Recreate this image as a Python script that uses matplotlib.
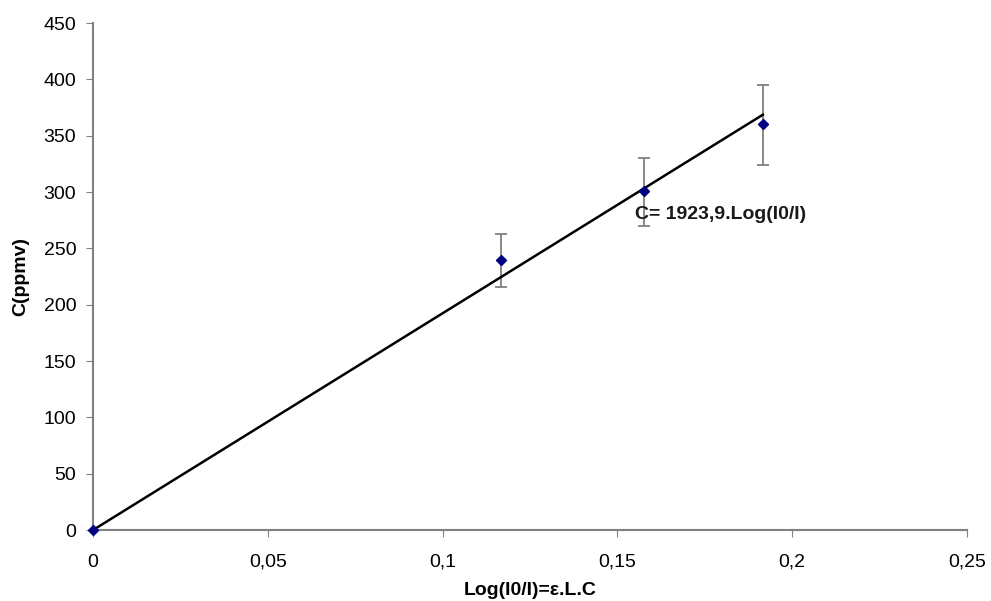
import numpy as np
import matplotlib
matplotlib.use('Agg')
import matplotlib.pyplot as plt

plt.rcParams['font.family'] = ['Liberation Sans', 'DejaVu Sans']

# measured points
log_ratio = [0, 0.1166, 0.1576, 0.1916]
conc = [0, 240, 301, 360]
err_low = [0, 24, 31, 36]
err_high = [0, 23, 29, 35]

slope = 1923.9
x_ticks = [0, 0.05, 0.1, 0.15, 0.2, 0.25]
x_labels = ['0', '0,05', '0,1', '0,15', '0,2', '0,25']
y_ticks = list(range(0, 451, 50))

fig = plt.figure(figsize=(9.91, 6.01), dpi=100)
ax = fig.add_axes([0.0938, 0.118, 0.882, 0.8437])

fit_x = np.array([0, log_ratio[-1]])
ax.plot(fit_x, slope * fit_x, color='black', lw=1.8, zorder=2)

ax.errorbar(log_ratio[1:], conc[1:], yerr=[err_low[1:], err_high[1:]],
            fmt='none', ecolor='#808080', elinewidth=1.3, capsize=4, capthick=1.3, zorder=1)
ax.plot(log_ratio, conc, 'D', color='#000080', ms=5, zorder=3, clip_on=False)

ax.text(0.155, 280, 'C= 1923,9.Log(I0/I)', fontsize=14, fontweight='bold', va='center',
        color='#1a1a1a')

ax.set_xlim(0, 0.25)
ax.set_ylim(0, 450)
ax.set_xticks(x_ticks)
ax.set_xticklabels(x_labels)
ax.set_yticks(y_ticks)
ax.tick_params(labelsize=14, direction='out', length=5, color='#808080', pad=7)
ax.tick_params(axis='x', pad=12)

for s in ['top', 'right']:
    ax.spines[s].set_visible(False)
for s in ['left', 'bottom']:
    ax.spines[s].set_color('#808080')
    ax.spines[s].set_linewidth(1.5)

ax.set_xlabel('Log(I0/I)=ε.L.C', fontsize=14, fontweight='bold', labelpad=8)
ax.set_ylabel('C(ppmv)', fontsize=14, fontweight='bold', labelpad=10)

fig.savefig('out.png', dpi=100)
